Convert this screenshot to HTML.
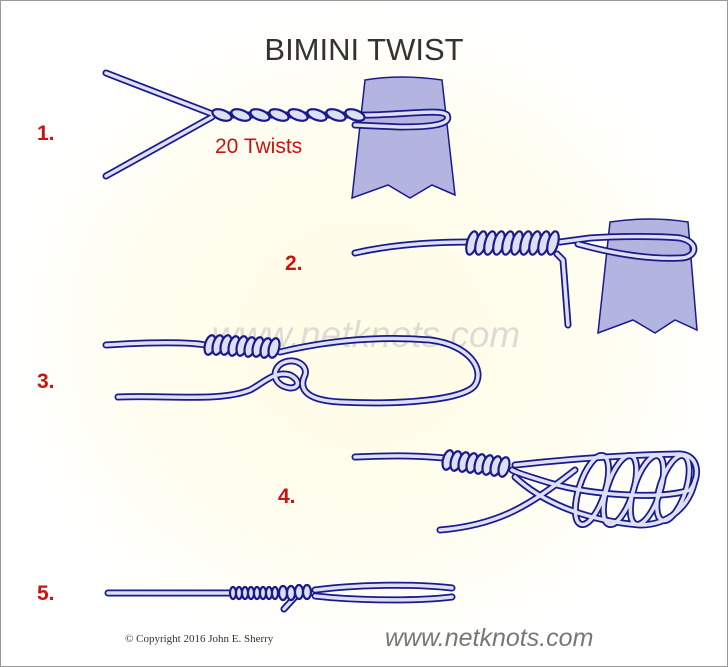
<!DOCTYPE html>
<html><head><style>
html,body{margin:0;padding:0;background:#fff}
svg{display:block}
.s{font-family:"Liberation Sans",sans-serif}
</style></head><body>
<svg width="728" height="667" viewBox="0 0 728 667" xmlns="http://www.w3.org/2000/svg">
<defs>
<radialGradient id="bg" cx="0.5" cy="0.5" r="0.5">
<stop offset="0" stop-color="#fffde6"/><stop offset="0.6" stop-color="#fffdee"/><stop offset="1" stop-color="#ffffff"/>
</radialGradient>
<g id="ropes" fill="none" stroke-linecap="round" stroke-linejoin="round">
<path d="M106 73 L215 115 L355 115 C400 116 440 108 447 115 C452 125 430 127 400 127 L355 125"/>
<path d="M106 176 L212 117"/>
<path d="M355 253 C390 245 430 242 470 242"/>
<path d="M560 242 L590 238 C620 236 660 236 680 238 C700 242 697 258 680 258 C640 260 600 250 578 244"/>
<path d="M557 254 L563 260 L568 325"/>
<path d="M106 345 C150 342 190 342 205 345"/>
<path d="M280 352 C330 340 380 336 430 340 C470 345 485 370 475 385 C465 400 400 405 340 402 C300 400 300 385 305 375 C308 365 295 358 285 362 C272 366 270 385 290 388 C300 388 300 380 290 375 C275 370 262 384 250 390 C220 402 170 395 118 397"/>
<path d="M355 457 C400 455 420 456 445 458"/>
<path d="M515 465 C560 460 620 455 680 454 C700 455 700 478 690 490 C660 500 590 495 550 483 C530 477 515 472 512 470"/>
<path d="M515 477 C540 500 580 520 640 525 C670 525 690 505 695 480"/>
<path d="M440 530 C500 525 530 505 575 470"/>
<ellipse cx="592" cy="490" rx="13" ry="36" transform="rotate(18 592 490)"/>
<ellipse cx="620" cy="490" rx="13" ry="36" transform="rotate(18 620 490)"/>
<ellipse cx="647" cy="490" rx="13" ry="36" transform="rotate(18 647 490)"/>
<ellipse cx="673" cy="488" rx="13" ry="34" transform="rotate(18 673 488)"/>
<path d="M108 593 L230 593"/>
<path d="M315 590 C360 584 420 584 452 588"/>
<path d="M315 596 C360 601 420 601 452 597"/>
<path d="M295 597 L284 609"/>
</g>
<g id="coils">
<g transform="translate(210,345)"><ellipse cx="0" cy="0" rx="5" ry="10" transform="rotate(15)"/><ellipse cx="8" cy="0" rx="5" ry="10" transform="rotate(15 8 0)"/><ellipse cx="16" cy="0" rx="5" ry="10" transform="rotate(15 16 0)"/><ellipse cx="24" cy="1" rx="5" ry="10" transform="rotate(15 24 1)"/><ellipse cx="32" cy="1" rx="5" ry="10" transform="rotate(15 32 1)"/><ellipse cx="40" cy="2" rx="5" ry="10" transform="rotate(15 40 2)"/><ellipse cx="48" cy="2" rx="5" ry="10" transform="rotate(15 48 2)"/><ellipse cx="56" cy="3" rx="5" ry="10" transform="rotate(15 56 3)"/><ellipse cx="64" cy="3" rx="5" ry="10" transform="rotate(15 64 3)"/></g>
<g transform="translate(472,243)"><ellipse cx="0" cy="0" rx="5" ry="12" transform="rotate(15)"/><ellipse cx="9" cy="0" rx="5" ry="12" transform="rotate(15 9 0)"/><ellipse cx="18" cy="0" rx="5" ry="12" transform="rotate(15 18 0)"/><ellipse cx="27" cy="0" rx="5" ry="12" transform="rotate(15 27 0)"/><ellipse cx="36" cy="0" rx="5" ry="12" transform="rotate(15 36 0)"/><ellipse cx="45" cy="0" rx="5" ry="12" transform="rotate(15 45 0)"/><ellipse cx="54" cy="0" rx="5" ry="12" transform="rotate(15 54 0)"/><ellipse cx="63" cy="0" rx="5" ry="12" transform="rotate(15 63 0)"/><ellipse cx="72" cy="0" rx="5" ry="12" transform="rotate(15 72 0)"/><ellipse cx="81" cy="0" rx="5" ry="12" transform="rotate(15 81 0)"/></g>
<g transform="translate(448,460)"><ellipse cx="0" cy="0" rx="5" ry="10" transform="rotate(15)"/><ellipse cx="8" cy="1" rx="5" ry="10" transform="rotate(15 8 1)"/><ellipse cx="16" cy="2" rx="5" ry="10" transform="rotate(15 16 2)"/><ellipse cx="24" cy="3" rx="5" ry="10" transform="rotate(15 24 3)"/><ellipse cx="32" cy="4" rx="5" ry="10" transform="rotate(15 32 4)"/><ellipse cx="40" cy="5" rx="5" ry="10" transform="rotate(15 40 5)"/><ellipse cx="48" cy="6" rx="5" ry="10" transform="rotate(15 48 6)"/><ellipse cx="56" cy="7" rx="5" ry="10" transform="rotate(15 56 7)"/></g>
<g transform="translate(233,593)"><ellipse cx="0" cy="0" rx="3" ry="6"/><ellipse cx="6" cy="0" rx="3" ry="6"/><ellipse cx="12" cy="0" rx="3" ry="6"/><ellipse cx="18" cy="0" rx="3" ry="6"/><ellipse cx="24" cy="0" rx="3" ry="6"/><ellipse cx="30" cy="0" rx="3" ry="6"/><ellipse cx="36" cy="0" rx="3" ry="6"/><ellipse cx="42" cy="0" rx="3" ry="6"/><ellipse cx="50" cy="0" rx="4" ry="7"/><ellipse cx="58" cy="0" rx="4" ry="7"/><ellipse cx="66" cy="-1" rx="4" ry="7"/><ellipse cx="74" cy="-1" rx="4" ry="7"/></g>
<g transform="translate(222,115)"><ellipse cx="0" cy="0" rx="10" ry="5" transform="rotate(20)"/><ellipse cx="19" cy="0" rx="10" ry="5" transform="rotate(20 19 0)"/><ellipse cx="38" cy="0" rx="10" ry="5" transform="rotate(20 38 0)"/><ellipse cx="57" cy="0" rx="10" ry="5" transform="rotate(20 57 0)"/><ellipse cx="76" cy="0" rx="10" ry="5" transform="rotate(20 76 0)"/><ellipse cx="95" cy="0" rx="10" ry="5" transform="rotate(20 95 0)"/><ellipse cx="114" cy="0" rx="10" ry="5" transform="rotate(20 114 0)"/><ellipse cx="133" cy="0" rx="10" ry="5" transform="rotate(20 133 0)"/></g>
</g>
</defs>
<rect x="0" y="0" width="728" height="667" fill="url(#bg)"/>
<rect x="0.5" y="0.5" width="727" height="666" fill="none" stroke="#999"/>
<text class="s" x="364" y="60" text-anchor="middle" font-size="31" fill="#333">BIMINI TWIST</text>
<text class="s" x="366" y="347" text-anchor="middle" font-size="37" font-style="italic" fill="#dcdcd4">www.netknots.com</text>
<path d="M365 80 Q400 74 442 80 L455 195 L432 185 L410 198 L388 185 L352 198 Z" fill="#b4b4e0" stroke="#1a1a8c" stroke-width="1.5"/>
<path d="M610 222 Q650 216 688 222 L697 330 L675 320 L655 333 L633 320 L598 333 Z" fill="#b4b4e0" stroke="#1a1a8c" stroke-width="1.5"/>
<use href="#ropes" stroke="#1a1a8c" stroke-width="7"/>
<use href="#ropes" stroke="#dde0f2" stroke-width="3.5"/>
<use href="#coils" fill="#dde0f2" stroke="#1a1a8c" stroke-width="2.2"/>
<text class="s" x="215" y="153" font-size="21" fill="#cc1111">20 Twists</text>
<g class="s" font-size="21" font-weight="bold" fill="#cc1111">
<text class="s" x="37" y="140">1.</text><text class="s" x="285" y="270">2.</text><text class="s" x="37" y="388">3.</text><text class="s" x="278" y="503">4.</text><text class="s" x="37" y="600">5.</text>
</g>
<text x="125" y="642" style="font-family:'Liberation Serif',serif" font-size="11" fill="#333">© Copyright  2016  John E. Sherry</text>
<text class="s" x="385" y="646" font-size="25" font-style="italic" fill="#777">www.netknots.com</text>
</svg>
</body></html>
